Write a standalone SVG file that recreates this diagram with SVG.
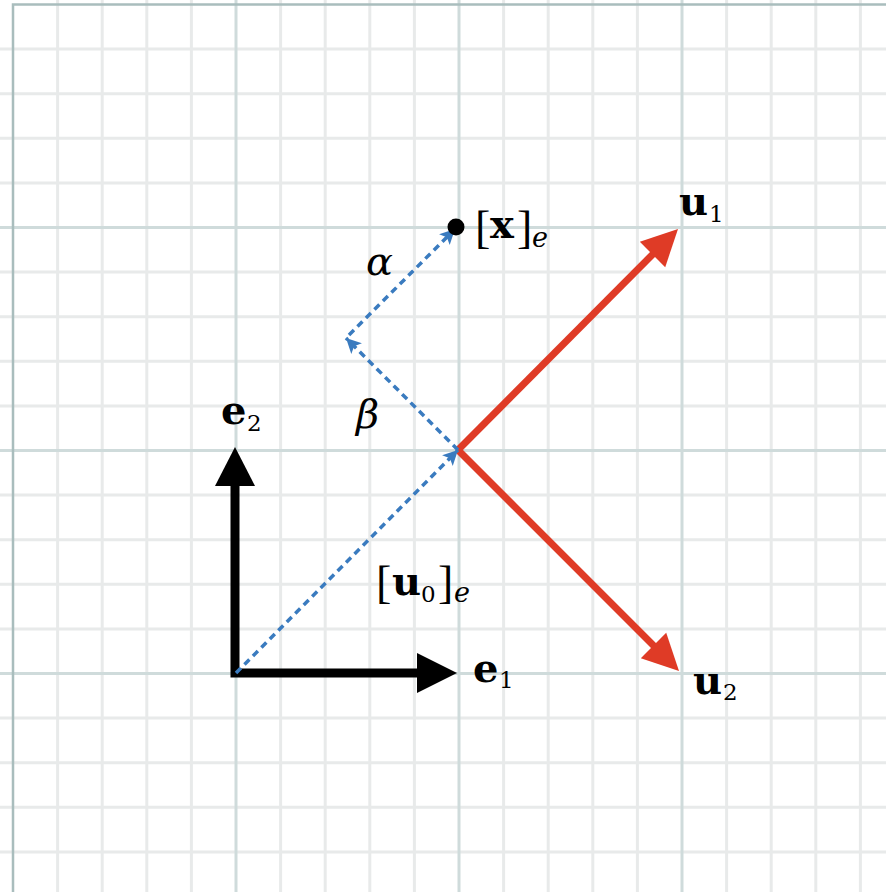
<svg xmlns="http://www.w3.org/2000/svg" width="886" height="892" viewBox="0 0 886 892">
<defs>
<style>
.minor{stroke:#e8eaea;stroke-width:3;fill:none}
.major{stroke:#cfdbdb;stroke-width:3;fill:none}
.border{stroke:#a9bdbd;stroke-width:2.5;fill:none}
.blk{stroke:#000;stroke-width:9;fill:none;stroke-linejoin:miter}
.red{stroke:#df3b26;stroke-width:7;fill:none}
.blue{stroke:#3a7bbf;stroke-width:3.5;fill:none;stroke-dasharray:7 5}
.t{font-family:"DejaVu Serif","Liberation Serif",serif;fill:#000}
.b{font-weight:bold;font-size:40px}
.r{font-family:"Liberation Serif",serif;font-size:46px}
.i{font-style:italic;font-size:40px}
.s{font-size:23px}
.si{font-style:italic;font-size:27px}
</style>
<marker id="ba" markerUnits="userSpaceOnUse" markerWidth="17" markerHeight="16" refX="15" refY="7.5" orient="auto">
<path d="M0,0 L15,7.5 L0,15 L3.5,7.5 Z" fill="#3a7bbf"/>
</marker>
</defs>
<g id="grid">
<path class="minor" d="M57.6,0V892M102.2,0V892M146.8,0V892M191.4,0V892M280.6,0V892M325.2,0V892M369.8,0V892M414.4,0V892M503.6,0V892M548.2,0V892M592.8,0V892M637.4,0V892M726.6,0V892M771.2,0V892M815.8,0V892M860.4,0V892"/>
<path class="minor" d="M0,49.1H886M0,93.7H886M0,138.3H886M0,182.9H886M0,272.1H886M0,316.7H886M0,361.3H886M0,405.9H886M0,495.1H886M0,539.7H886M0,584.3H886M0,628.9H886M0,718.1H886M0,762.7H886M0,807.3H886M0,851.9H886"/>
<path class="major" d="M236,0V892M459,0V892M682,0V892M0,227.5H886M0,450.5H886M0,673.5H886"/>
<path class="border" d="M13,892V4.5H886"/>
</g>
<g id="e-basis">
<path class="blk" d="M235,486V673H418"/>
<polygon points="235,447 215,486 255,486"/>
<polygon points="457,673 417,653 417,693"/>
</g>
<g id="u-basis">
<line class="red" x1="458" y1="450" x2="655" y2="252"/>
<polygon points="678,229 639.8,241.8 665.2,267.2" fill="#df3b26"/>
<line class="red" x1="458" y1="450" x2="656" y2="648"/>
<polygon points="679,671 666.2,632.8 640.8,658.2" fill="#df3b26"/>
</g>
<g id="connectors">
<line class="blue" x1="236" y1="673" x2="458" y2="450" marker-end="url(#ba)"/>
<line class="blue" x1="458" y1="450" x2="346" y2="338" marker-end="url(#ba)"/>
<line class="blue" x1="349" y1="335" x2="455" y2="229" marker-end="url(#ba)"/>
</g>
<g id="point-x">
<circle cx="456" cy="227" r="8.5" fill="#000"/>
</g>
<g id="labels">
<text class="t"><tspan class="r" x="475" y="243">[</tspan><tspan class="b" x="490" y="238">x</tspan><tspan class="r" x="517" y="243">]</tspan><tspan class="si" x="532" y="247">e</tspan></text>
<text class="t i" x="366" y="275">α</text>
<text class="t i" x="356" y="428">β</text>
<text class="t"><tspan class="b" x="221" y="424">e</tspan><tspan class="s" x="247" y="431">2</tspan></text>
<text class="t"><tspan class="b" x="473" y="682">e</tspan><tspan class="s" x="499" y="688">1</tspan></text>
<text class="t"><tspan class="r" x="376" y="598">[</tspan><tspan class="b" x="392" y="595">u</tspan><tspan class="s" x="421" y="602">0</tspan><tspan class="r" x="438" y="598">]</tspan><tspan class="si" x="454" y="602">e</tspan></text>
<text class="t"><tspan class="b" x="679" y="215">u</tspan><tspan class="s" x="709" y="222">1</tspan></text>
<text class="t"><tspan class="b" x="693" y="694">u</tspan><tspan class="s" x="723" y="700">2</tspan></text>
</g>
</svg>
